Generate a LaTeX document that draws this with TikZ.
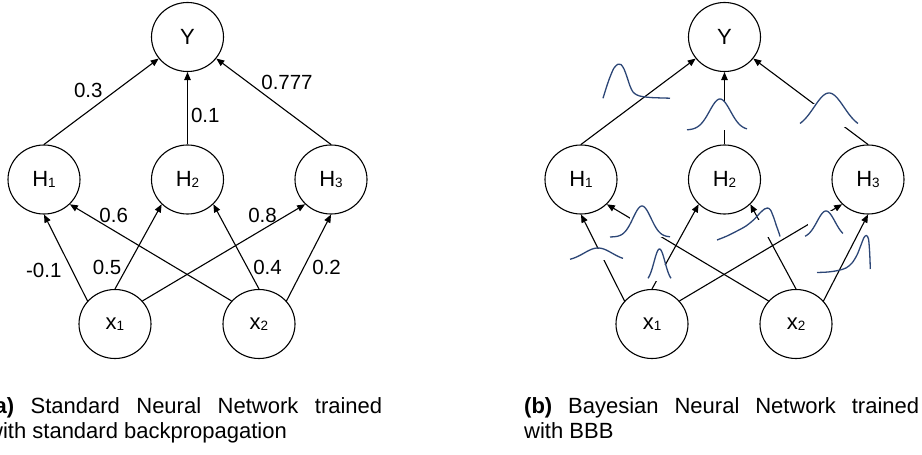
\documentclass[tikz,border=0pt]{standalone}
\usepackage{fontspec}
\setmainfont{Liberation Sans}
\usetikzlibrary{arrows.meta,shapes.geometric}
\definecolor{curveblue}{RGB}{44,70,118}
\newcommand\lowidx[1]{{\fontsize{13.5pt}{13.5pt}\selectfont\raisebox{-1.5pt}{#1}}}
\begin{document}
\begin{tikzpicture}[x=1pt,y=-1pt,
  neuron/.style={ellipse, draw, line width=1.1pt, minimum width=72pt, minimum height=69pt,
    inner sep=0pt, font=\fontsize{22pt}{22pt}\selectfont},
  edge/.style={line width=1.1pt, -{Triangle[length=8pt,width=6.5pt]}},
  weight/.style={inner sep=0pt, font=\fontsize{20.5pt}{20.5pt}\selectfont},
  mask/.style={fill=white, draw=none},
  bell/.style={draw=curveblue, line width=1.3pt},
  caption/.style={inner sep=0pt, text width=395pt, align=justify,
    font=\fontsize{22pt}{25.5pt}\selectfont}]
\useasboundingbox (0,0) rectangle (922,455);

% ---------- (a) standard network ----------
\node[neuron] (aY)  at (187.5,37)  {Y};
\node[neuron] (aH1) at (44,179.5)  {H\lowidx{1}};
\node[neuron] (aH2) at (187.5,179.5) {H\lowidx{2}};
\node[neuron] (aH3) at (331,179.5) {H\lowidx{3}};
\node[neuron] (ax1) at (115,324)   {x\lowidx{1}};
\node[neuron] (ax2) at (259,324)   {x\lowidx{2}};

\draw[edge] (ax1.140) -- (aH1.south);
\draw[edge] (ax2.140) -- (aH1.south east);
\draw[edge] (ax1.north) -- (aH2.south west);
\draw[edge] (ax2.north) -- (aH2.south east);
\draw[edge] (ax1.40) -- (aH3.south west);
\draw[edge] (ax2.40) -- (aH3.south);
\draw[edge] (aH1.north) -- (aY);
\draw[edge] (aH2.north) -- (aY);
\draw[edge] (aH3.north) -- (aY);

\node[weight] (w1) at (88.3,90.3)   {0.3};
\node[weight] (w2) at (205.3,115.3) {0.1};
\node[weight] (w3) at (287,82)      {0.777};
\node[weight] (w4) at (113.7,215.8) {0.6};
\node[weight] (w5) at (262.5,215.8) {0.8};
\node[weight] (w6) at (43.8,270.8)  {-0.1};
\node[weight] (w7) at (107,267.5)   {0.5};
\node[weight] (w8) at (267.5,267.3) {0.4};
\node[weight] (w9) at (326.5,267.3) {0.2};

\node[caption, anchor=north west] (capA) at (-13,397)
  {\noindent\textbf{(a)} Standard Neural Network trained\linebreak with standard backpropagation};

% ---------- (b) Bayesian network ----------
\node[neuron] (bY)  at (724.5,37)  {Y};
\node[neuron] (bH1) at (581,179.5) {H\lowidx{1}};
\node[neuron] (bH2) at (724.5,179.5) {H\lowidx{2}};
\node[neuron] (bH3) at (868,179.5) {H\lowidx{3}};
\node[neuron] (bx1) at (652,324)   {x\lowidx{1}};
\node[neuron] (bx2) at (796,324)   {x\lowidx{2}};

\draw[edge] (bx1.140) -- (bH1.south);
\draw[edge] (bx2.140) -- (bH1.south east);
\draw[edge] (bx1.north) -- (bH2.south west);
\draw[edge] (bx2.north) -- (bH2.south east);
\draw[edge] (bx1.40) -- (bH3.south west);
\draw[edge] (bx2.40) -- (bH3.south);
\draw[edge] (bH1.north) -- (bY);
\draw[edge] (bH2.north) -- (bY);
\draw[edge] (bH3.north) -- (bY);

% white backgrounds of the weight distributions
\fill[mask] (712,102) rectangle (737,129.5);
\fill[mask] (800,104) rectangle (858,127);
\fill[mask] (570,249) rectangle (624,259.5);
\fill[mask] (630,212) rectangle (668,236.5);
\fill[mask] (650,265) rectangle (669,280.5);
\fill[mask] (752,220) rectangle (772,237);
\fill[mask] (808,211) rectangle (842,240);

% weight distributions
\draw[bell] plot[smooth] coordinates {(603,98.3) (606.5,87) (610,77) (614,68) (618,64.2) (621,64.5)
  (624,69) (627,77) (630,86) (633,92) (637,95) (642,96.5) (652,97.6) (670,98.2)};
\draw[bell] plot[domain=687:747, samples=60, smooth] (\x, {130-31*exp(-((\x-720)*(\x-720))/220.5)});
\draw[bell] plot[domain=800:858, samples=60, smooth] (\x, {129-36*exp(-((\x-829)*(\x-829))/450)});
\draw[bell] plot[domain=570:623, samples=60, smooth] (\x, {261-13*exp(-((\x-598)*(\x-598))/392)});
\draw[bell] plot[domain=610:670, samples=60, smooth] (\x, {237-31*exp(-((\x-642)*(\x-642))/162)});
\draw[bell] plot[domain=648:671, samples=50, smooth] (\x, {282-33*exp(-((\x-659.5)*(\x-659.5))/60.5)});
\draw[bell] plot[smooth] coordinates {(717,240) (727,236) (737,231) (746,226) (754,219.5) (760,213)
  (764.5,209) (767.5,208) (770.5,210) (773.5,217) (776.5,226) (779,233) (780,236.5)};
\draw[bell] plot[domain=805:843, samples=50, smooth] (\x, {238-27*exp(-((\x-826)*(\x-826))/162)});
\draw[bell] plot[smooth] coordinates {(817,272.5) (828,272) (838,270.5) (846,268) (852,263) (857,255)
  (861,245) (864,237.5) (866.5,235.5) (868.5,239) (869.5,250) (870,260) (870.3,269)};

\node[caption, anchor=north west] (capB) at (524,397)
  {\noindent\textbf{(b)} Bayesian Neural Network trained\linebreak with BBB};
\end{tikzpicture}
\end{document}
